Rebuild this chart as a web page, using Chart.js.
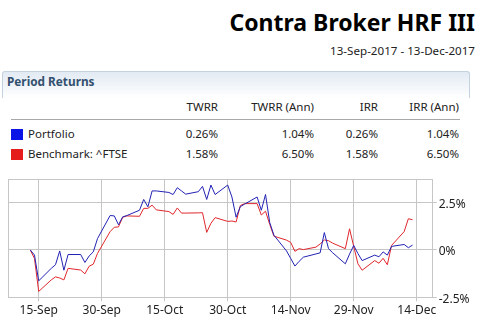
<!DOCTYPE html>
<html><head><meta charset="utf-8">
<script src="https://cdn.jsdelivr.net/npm/chart.js@4.4.0/dist/chart.umd.min.js"></script>
<style>
html,body{margin:0;padding:0;background:#fff;width:482px;height:328px;overflow:hidden;font-family:"Noto Sans",sans-serif;color:#222;}
.abs{position:absolute;white-space:nowrap;}
#title{right:7px;top:9.5px;font-size:23px;line-height:24px;font-weight:bold;color:#000;}
#period{right:7px;top:44.5px;font-size:11.6px;line-height:12px;color:#222;}
#panel{left:2px;top:71px;width:466px;height:26px;border:1px solid #c4d2e0;border-bottom:none;border-radius:3px 3px 0 0;
 background:linear-gradient(#e2eaf3,#ffffff);}
#panelTitle{left:7px;top:74.5px;font-size:11.8px;line-height:12px;font-weight:bold;color:#33506f;}
.cell{font-size:11.5px;line-height:12px;text-align:right;}
#sep{left:11px;top:119px;width:449px;height:1px;background:#a8a8a8;}
.sw{position:absolute;width:12px;height:11px;}
#chartBox{position:absolute;left:0;top:170px;width:482px;height:158px;}
</style></head><body>
<div id="title" class="abs">Contra Broker HRF III</div>
<div id="period" class="abs">13-Sep-2017 - 13-Dec-2017</div>
<div id="panel" class="abs"></div>
<div id="panelTitle" class="abs">Period Returns</div>
<div id="sep" class="abs"></div>
<div id="table"></div>
<div id="chartBox"><canvas id="c" width="482" height="158"></canvas></div>
<script>
// ---- data ----
const returnColumns = ['TWRR', 'TWRR (Ann)', 'IRR', 'IRR (Ann)'];
const seriesNames = ['Portfolio', 'Benchmark: ^FTSE'];
const portfolioReturns = ['0.26%', '1.04%', '0.26%', '1.04%'];
const benchmarkReturns = ['1.58%', '6.50%', '1.58%', '6.50%'];

const dates = [
 '2017-09-13','2017-09-14','2017-09-15','2017-09-18','2017-09-19','2017-09-20','2017-09-21','2017-09-22',
 '2017-09-25','2017-09-26','2017-09-27','2017-09-28','2017-09-29',
 '2017-10-02','2017-10-03','2017-10-04','2017-10-05','2017-10-06',
 '2017-10-09','2017-10-10','2017-10-11','2017-10-12','2017-10-13',
 '2017-10-16','2017-10-17','2017-10-18','2017-10-19','2017-10-20',
 '2017-10-23','2017-10-24','2017-10-25','2017-10-26','2017-10-27',
 '2017-10-30','2017-10-31','2017-11-01','2017-11-02','2017-11-03',
 '2017-11-06','2017-11-07','2017-11-08','2017-11-09','2017-11-10',
 '2017-11-13','2017-11-14','2017-11-15','2017-11-16','2017-11-17',
 '2017-11-20','2017-11-21','2017-11-22','2017-11-23','2017-11-24',
 '2017-11-27','2017-11-28','2017-11-29','2017-11-30','2017-12-01',
 '2017-12-04','2017-12-05','2017-12-06','2017-12-07','2017-12-08',
 '2017-12-11','2017-12-12','2017-12-13'];
const portfolio = [
 0, -0.27, -1.63, -0.97, -0.78, -0.05, -1.07, -0.24,
 -0.24, -0.66, -0.32, -0.10, 0.60,
 1.82, 1.80, 1.33, 1.75, 1.82,
 2.10, 2.67, 2.28, 3.12, 3.12,
 3.04, 2.93, 3.29, 3.12, 2.95,
 3.08, 3.36, 2.67, 3.43, 2.93,
 3.43, 2.80, 1.73, 2.29, 2.42,
 2.80, 2.10, 2.93, 1.45, 0.78,
 -0.05, -0.45, -0.85, -0.60, -0.38,
 -0.21, -0.15, 0.92, 0.07, -0.15,
 -0.73, -0.22, 0.24, -0.19, -0.56,
 -0.27, -0.36, -0.10, -0.27, 0.19,
 0.29, 0.12, 0.26];
const benchmark = [
 0, -0.45, -2.19, -1.58, -1.42, -1.48, -1.58, -0.97,
 -1.06, -1.26, -0.86, -0.75, -0.18,
 0.97, 1.20, 1.22, 1.73, 1.80,
 1.78, 2.20, 2.20, 2.37, 2.12,
 2.03, 1.88, 2.22, 1.95, 1.95,
 1.96, 1.97, 0.93, 1.41, 1.71,
 1.51, 1.53, 1.48, 2.35, 2.45,
 2.45, 1.85, 2.05, 1.35, 0.73,
 0.52, 0.40, -0.07, 0.07, 0.02,
 0.15, 0.32, 0.53, 0.49, 0.36,
 0.07, 1.12, 0.19, -0.73, -1.07,
 -0.56, -0.70, -0.44, -0.78, 0.24,
 0.97, 1.65, 1.60];
const tickDates = ['2017-09-15','2017-09-30','2017-10-15','2017-10-30','2017-11-14','2017-11-29','2017-12-14'];
const tickLabels = ['15-Sep','30-Sep','15-Oct','30-Oct','14-Nov','29-Nov','14-Dec'];
const yTickValues = [-2.5, 0, 2.5];
const yTickLabels = ['-2.5%', '0%', '2.5%'];
const xRange = ['2017-09-07T16:40:00Z', '2017-12-17T19:10:00Z'];
const yRange = [-2.5, 3.74];

// ---- table ----
const colRight = [218, 314, 378, 459];
const tbl = document.getElementById('table');
function addText(txt, rightX, top, leftX){
  const d = document.createElement('div');
  d.className = 'abs cell';
  d.textContent = txt;
  d.style.top = top + 'px';
  if (leftX !== undefined) { d.style.left = leftX + 'px'; d.style.textAlign='left'; }
  else d.style.right = (482 - rightX) + 'px';
  tbl.appendChild(d);
}
returnColumns.forEach((h,i)=>addText(h, colRight[i], 100.5));
const rows = [portfolioReturns, benchmarkReturns];
const swColors = ['#0a14e6', '#e41c1c'];
rows.forEach((r,ri)=>{
  const top = 128 + ri*20;
  addText(seriesNames[ri], 0, top, 28);
  r.forEach((v,i)=>addText(v, colRight[i], top));
  const s = document.createElement('div');
  s.className = 'sw'; s.style.left='11px'; s.style.top=(128.5+ri*20)+'px'; s.style.background=swColors[ri];
  tbl.appendChild(s);
});

// ---- chart ----
const DAY = 86400000;
const base = Date.parse('2017-09-15T00:00:00Z');
const dayOf = s => (Date.parse(s.length>10 ? s : s+'T00:00:00Z') - base)/DAY;

const gridColor = '#c6c6c6';
const frame = {
  id:'frame',
  beforeDatasetsDraw(chart){
    const {ctx, chartArea:a} = chart;
    ctx.save(); ctx.strokeStyle = gridColor; ctx.lineWidth = 1;
    ctx.strokeRect(Math.round(a.left)+0.5, Math.round(a.top)+0.5, Math.round(a.right-a.left)-1, Math.round(a.bottom-a.top));
    ctx.restore();
  }
};
new Chart(document.getElementById('c'), {
  type:'line',
  data:{datasets:[
    {label:seriesNames[0], data:dates.map((d,i)=>({x:dayOf(d), y:portfolio[i]})), borderColor:'#2222b4', borderWidth:1, pointRadius:0, tension:0},
    {label:seriesNames[1], data:dates.map((d,i)=>({x:dayOf(d), y:benchmark[i]})), borderColor:'#e0262c', borderWidth:1, pointRadius:0, tension:0}
  ]},
  options:{
    responsive:false, animation:false, devicePixelRatio:1,
    layout:{padding:{left:8, top:5, right:0, bottom:0}},
    plugins:{legend:{display:false}, tooltip:{enabled:false}},
    scales:{
      x:{type:'linear', min:dayOf(xRange[0]), max:dayOf(xRange[1]),
        afterBuildTicks(s){ s.ticks = tickDates.map(d=>({value:dayOf(d)})); },
        afterFit(s){ s.height = 30.7; },
        grid:{color:gridColor, tickLength:4, drawOnChartArea:true},
        border:{color:gridColor},
        ticks:{autoSkip:false, maxRotation:0, padding:2, color:'#222', font:{family:'"Noto Sans"', size:12},
          callback:(v,i)=>tickLabels[i]}
      },
      y:{type:'linear', position:'right', min:yRange[0], max:yRange[1],
        afterBuildTicks(s){ s.ticks = yTickValues.map(v=>({value:v})); },
        afterFit(s){ s.width = 49.3; },
        grid:{color:gridColor, tickLength:4},
        border:{color:gridColor},
        ticks:{padding:2, labelOffset:2, color:'#222', font:{family:'"Noto Sans"', size:12},
          callback:(v,i)=>yTickLabels[i]}
      }
    }
  },
  plugins:[frame]
});
</script>
</body></html>
